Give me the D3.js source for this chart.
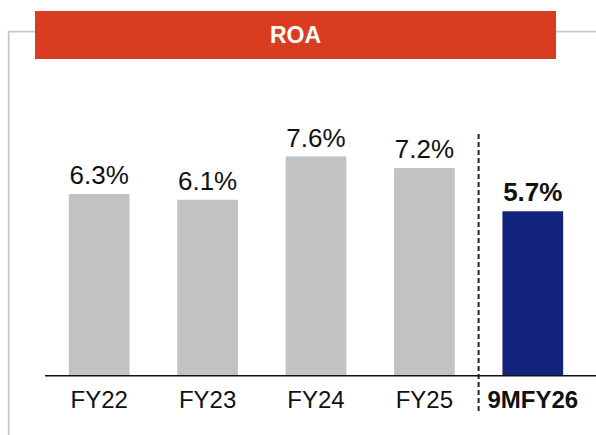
<!DOCTYPE html>
<html>
<head>
<meta charset="utf-8">
<script src="https://cdn.jsdelivr.net/npm/d3@7"></script>
<style>
  body { margin: 0; background: #fff; }
  svg { display: block; font-family: "Liberation Sans", Arial, sans-serif; }
</style>
</head>
<body>
<svg width="596" height="435"></svg>
<script>
const categories = ["FY22", "FY23", "FY24", "FY25", "9MFY26"];
const roaValues = [6.3, 6.1, 7.6, 7.2, 5.7];
const valueLabels = ["6.3%", "6.1%", "7.6%", "7.2%", "5.7%"];
const title = "ROA";

const svg = d3.select("svg");
const width = +svg.attr("width");
const height = +svg.attr("height");

const baseY = 375.7;

// frame round the panel
svg.append("path")
  .attr("d", `M${width},31.7 H8.7 V${height}`)
  .attr("fill", "none")
  .attr("stroke", "#c9c9c9")
  .attr("stroke-width", 1.8);

// title banner
svg.append("rect")
  .attr("x", 35)
  .attr("y", 11)
  .attr("width", 521)
  .attr("height", 48)
  .attr("fill", "#d93c20");

svg.append("text")
  .attr("x", 295.5)
  .attr("y", 43)
  .attr("text-anchor", "middle")
  .attr("fill", "#fff")
  .attr("font-weight", "bold")
  .attr("font-size", 23)
  .text(title);

const x = d3.scaleBand()
  .domain(categories)
  .range([45, 587])
  .paddingInner(0.44)
  .paddingOuter(0.22);

const y = d3.scaleLinear()
  .domain([0, 7.6])
  .range([baseY, 156.5]);

const isLast = (d, i) => i === categories.length - 1;

svg.selectAll(".bar")
  .data(roaValues)
  .join("rect")
  .attr("class", "bar")
  .attr("x", (d, i) => x(categories[i]))
  .attr("width", x.bandwidth())
  .attr("y", d => y(d))
  .attr("height", d => baseY - y(d))
  .attr("fill", (d, i) => isLast(d, i) ? "#13227a" : "#c1c2c4");

svg.selectAll(".vlabel")
  .data(roaValues)
  .join("text")
  .attr("class", "vlabel")
  .attr("x", (d, i) => x(categories[i]) + x.bandwidth() / 2)
  .attr("y", d => y(d) - 10)
  .attr("text-anchor", "middle")
  .attr("font-size", 26)
  .attr("font-weight", (d, i) => isLast(d, i) ? "bold" : "normal")
  .attr("fill", "#111")
  .text((d, i) => valueLabels[i]);

// axis line
svg.append("line")
  .attr("x1", 45)
  .attr("x2", width)
  .attr("y1", baseY)
  .attr("y2", baseY)
  .attr("stroke", "#111")
  .attr("stroke-width", 1.6);

svg.selectAll(".cat")
  .data(categories)
  .join("text")
  .attr("class", "cat")
  .attr("x", d => x(d) + x.bandwidth() / 2)
  .attr("y", 407.7)
  .attr("text-anchor", "middle")
  .attr("font-size", 24)
  .attr("font-weight", (d, i) => isLast(d, i) ? "bold" : "normal")
  .attr("fill", "#111")
  .text(d => d);

// dashed divider before the 9M period
const divX = (x(categories[3]) + x.bandwidth() + x(categories[4])) / 2;
svg.append("line")
  .attr("x1", divX)
  .attr("x2", divX)
  .attr("y1", 134)
  .attr("y2", 411)
  .attr("stroke", "#222")
  .attr("stroke-width", 2)
  .attr("stroke-dasharray", "5,3");
</script>
</body>
</html>
